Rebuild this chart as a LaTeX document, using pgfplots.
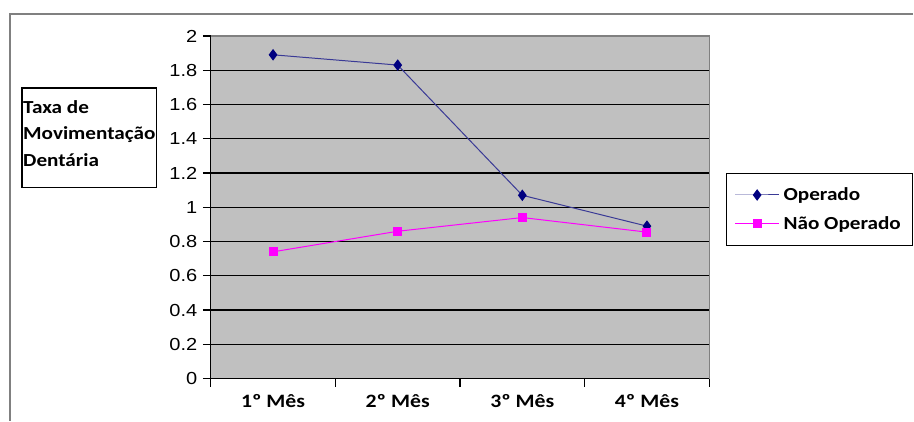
\documentclass[border=0pt]{standalone}
\usepackage{pgfplots}
\pgfplotsset{compat=1.18}
\usepackage{fontspec}
\setmainfont{Carlito}[FakeStretch=1.15]
\newfontfamily\arial{Liberation Sans}[FakeStretch=1.15]
\definecolor{plotgray}{HTML}{C0C0C0}
\definecolor{opcol}{HTML}{000080}
\definecolor{oplinecol}{HTML}{3A3A96}
\definecolor{nopcol}{HTML}{FF00FF}
\definecolor{framegray}{HTML}{808080}
\begin{document}
\begin{tikzpicture}[x=1bp,y=1bp]
\begin{axis}[
  name=ax,
  scale only axis, width=499bp, height=343bp,
  xmin=-0.5, xmax=3.5, ymin=0, ymax=2,
  axis background/.style={fill=plotgray},
  axis x line*=bottom, axis y line*=left,
  axis line style={black,line width=1.2bp,-},
  ytick={0,0.2,...,2.01},
  yticklabels={0,0.2,0.4,0.6,0.8,1,1.2,1.4,1.6,1.8,2},
  ymajorgrids, grid style={black,line width=1.3bp},
  xtick={0,1,2,3},
  xticklabels={1º Mês,2º Mês,3º Mês,4º Mês},
  minor xtick={-0.5,0.5,1.5,2.5,3.5},
  major x tick style={draw=none},
  minor x tick style={black,line width=1.2bp},
  minor tick length=8bp,
  y tick style={black,line width=1.2bp},
  major tick length=8bp,
  tick align=outside, xtick pos=bottom, ytick pos=left,
  /pgf/number format/assume math mode=true,
  yticklabel style={font=\arial\fontsize{17.5}{20}\selectfont, xshift=-2bp},
  xticklabel style={font=\bfseries\fontsize{19}{22}\selectfont, yshift=-4bp},
  legend style={at={(1.034,0.6006)}, anchor=north west, draw=black, line width=1bp,
    font=\bfseries\fontsize{18.5}{22}\selectfont, row sep=10bp, inner xsep=8bp, inner ysep=12.5bp,
    nodes={inner xsep=4bp}},
  legend cell align=left,
  legend image code/.code={\draw[mark repeat=2,mark phase=2] plot coordinates {(0bp,0bp) (22bp,0bp) (44bp,0bp)};},
  clip=false,
]
\addplot[color=oplinecol, line width=1bp, mark=diamond*, mark size=5bp, mark options={fill=opcol,draw=opcol,solid}]
  coordinates {(0,1.89) (1,1.83) (2,1.07) (3,0.89)};
\addlegendentry{Operado}
\addplot[color=nopcol, line width=1bp, mark=square*, mark size=4bp, mark options={fill=nopcol,draw=nopcol,solid}]
  coordinates {(0,0.74) (1,0.86) (2,0.94) (3,0.855)};
\addlegendentry{Não Operado}
\draw[framegray,line width=1.2bp] (rel axis cs:0,1) -- (rel axis cs:1,1) -- (rel axis cs:1,0);
\end{axis}
\begin{scope}[shift={(ax.south west)}, xshift=-211bp, yshift=-42bp]
\path (0,0) rectangle (914,421);
% outer chart frame (top and left edges visible)
\draw[framegray,line width=2bp] (10,0) -- (10,407) -- (914,407);
% y-axis title box
\draw[black,line width=1.2bp] (22,233) rectangle (157,333);
\node[anchor=north west, inner sep=0pt, align=left, font=\bfseries\fontsize{18.5}{27}\selectfont] at (23,321)
  {Taxa de\\Movimentação\\Dentária};
\end{scope}
\end{tikzpicture}
\end{document}
